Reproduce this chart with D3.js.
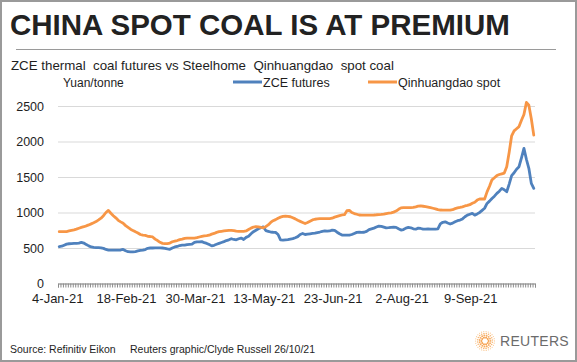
<!DOCTYPE html>
<html>
<head>
<meta charset="utf-8">
<script src="https://cdn.jsdelivr.net/npm/d3@7"></script>
<style>
  body { margin: 0; background: #fff; }
  svg { display: block; }
  text { font-family: "Liberation Sans", Arial, sans-serif; fill: #1e1e1e; }
</style>
</head>
<body>
<div id="graph"></div>
<script>
// china spot coal vs zce futures, daily (chinese trading days 4-Jan-21 .. 25-Oct-21)

var svgWidth = 577, svgHeight = 362;

var seriesNames = ["ZCE futures", "Qinhuangdao spot"];
var seriesColors = ["#4f81bd", "#f79646"];

// every 28th trading day gets a label
var tickIdx = [0, 28, 56, 84, 112, 140, 168];
var tickLabels = ["4-Jan-21", "18-Feb-21", "30-Mar-21", "13-May-21", "23-Jun-21", "2-Aug-21", "9-Sep-21"];
var yTicks = [0, 500, 1000, 1500, 2000, 2500];

// yuan/tonne
var zce = [
  520, 525, 540, 555, 560, 562, 565, 565, 570, 580,
  570, 548, 530, 515, 508, 505, 505, 502, 495, 480,
  470, 470, 470, 470, 470, 472, 480, 462, 448, 446,
  446, 450, 458, 465, 470, 478, 495, 500, 500, 502,
  502, 502, 500, 495, 488, 482, 500, 515, 522, 535,
  540, 540, 548, 552, 555, 580, 587, 585, 590, 575,
  565, 548, 530, 538, 552, 565, 578, 590, 605, 615,
  630, 620, 615, 630, 640, 620, 650, 665, 700, 730,
  750, 770, 785, 798, 745, 735, 725, 722, 720, 690,
  615, 612, 615, 618, 625, 632, 645, 660, 690, 705,
  690, 695, 700, 705, 710, 718, 725, 735, 742, 737,
  740, 752, 748, 722, 700, 682, 680, 681, 682, 690,
  705, 720, 722, 720, 722, 735, 760, 770, 780, 795,
  808, 805, 795, 784, 786, 790, 793, 790, 770, 752,
  760, 780, 790, 785, 770, 765, 780, 775, 765, 765,
  768, 765, 765, 765, 770, 840, 862, 869, 852, 838,
  850, 870, 885, 893, 910, 940, 963, 975, 987, 963,
  980, 1001, 1030, 1060, 1128, 1160, 1198, 1230, 1269, 1300,
  1340, 1320, 1292, 1400, 1520, 1560, 1610, 1645, 1770, 1904,
  1750, 1622, 1410, 1340
];

var spot = [
  730, 730, 730, 732, 740, 748, 755, 765, 778, 790,
  800, 812, 825, 840, 855, 872, 895, 920, 955, 1000,
  1030, 990, 955, 925, 890, 868, 848, 815, 790, 765,
  745, 728, 712, 690, 680, 678, 665, 662, 655, 625,
  605, 580, 565, 562, 562, 570, 588, 598, 605, 618,
  625, 635, 640, 640, 640, 640, 645, 655, 665, 672,
  675, 680, 695, 705, 720, 730, 735, 740, 745, 748,
  748, 745, 738, 735, 735, 735, 740, 760, 780, 795,
  800, 798, 790, 785, 800, 825, 860, 885, 900, 920,
  935, 945, 950, 945, 940, 925, 910, 890, 875, 860,
  845, 860, 878, 895, 905, 910, 915, 915, 915, 915,
  915, 920, 935, 945, 955, 965, 970, 1025, 1030, 1000,
  985, 975, 965, 962, 962, 962, 963, 963, 965, 968,
  970, 973, 978, 985, 990, 995, 1005, 1020, 1045, 1065,
  1068, 1070, 1070, 1070, 1072, 1080, 1090, 1092, 1088, 1082,
  1075, 1068, 1060, 1052, 1040, 1035, 1033, 1033, 1033, 1033,
  1040, 1055, 1065, 1072, 1080, 1092, 1100, 1110, 1130, 1145,
  1175, 1190, 1190, 1190, 1290, 1370, 1460, 1490, 1520, 1535,
  1545, 1555, 1645, 1850, 2080, 2150, 2180, 2210, 2300, 2380,
  2550, 2510, 2320, 2090
];

var plot = {left: 58, right: 535, top: 106, bottom: 283.5};

var svg = d3.select('#graph').append('svg')
  .attr("width", svgWidth)
  .attr("height", svgHeight);

// outer frame
svg.append("rect")
  .attr("x", 1).attr("y", 1)
  .attr("width", svgWidth - 2).attr("height", svgHeight - 2)
  .attr("fill", "#fff")
  .attr("stroke", "#9a9a9a")
  .attr("stroke-width", 2);

// headline block
svg.append("text")
  .attr("x", 10).attr("y", 35)
  .style("font-size", "29.5px")
  .style("font-weight", "bold")
  .style("fill", "#222")
  .text("CHINA SPOT COAL IS AT PREMIUM");

svg.append("line")
  .attr("x1", 16).attr("x2", 556)
  .attr("y1", 49.5).attr("y2", 49.5)
  .attr("stroke", "#9a9a9a");

svg.append("text")
  .attr("x", 11).attr("y", 70)
  .style("font-size", "13.3px")
  .style("white-space", "pre")
  .attr("xml:space", "preserve")
  .text("ZCE thermal  coal futures vs Steelhome  Qinhuangdao  spot coal");

svg.append("text")
  .attr("x", 63).attr("y", 87)
  .style("font-size", "12px")
  .text("Yuan/tonne");

// scales
var n = zce.length;
var x = d3.scaleLinear()
  .domain([0, n])
  .range([plot.left, plot.right]);

var y = d3.scaleLinear()
  .domain([0, 2500])
  .range([plot.bottom, plot.top]);

// gridlines + y labels
var yAxis = svg.append("g")
  .attr("transform", "translate(" + plot.left + ",0)")
  .call(d3.axisLeft(y)
    .tickValues(yTicks)
    .tickFormat(d3.format("d"))
    .tickSize(-(plot.right - plot.left))
    .tickPadding(14));
yAxis.select(".domain").remove();
yAxis.selectAll(".tick line").attr("stroke", "#d9d9d9");
yAxis.selectAll(".tick text")
  .style("font-size", "12.5px")
  .style("font-family", '"Liberation Sans", Arial, sans-serif')
  .attr("fill", "#1e1e1e");

// category axis: one tick per trading day boundary
var xAxis = svg.append("g")
  .attr("transform", "translate(0," + plot.bottom + ")")
  .call(d3.axisBottom(x).tickValues(d3.range(0, n + 1)).tickSize(4).tickFormat(""));
xAxis.select(".domain").attr("stroke", "#8c8c8c");
xAxis.selectAll(".tick line").attr("stroke", "#8c8c8c");

var xLabels = svg.append("g")
  .attr("transform", "translate(0," + plot.bottom + ")")
  .call(d3.axisBottom(x)
    .tickValues(tickIdx.map(function(i) { return i + 0.5; }))
    .tickSize(0).tickPadding(10)
    .tickFormat(function(d, i) { return tickLabels[i]; }));
xLabels.select(".domain").remove();
xLabels.selectAll(".tick text")
  .attr("dx", "-2")
  .style("font-size", "13px")
  .style("font-family", '"Liberation Sans", Arial, sans-serif')
  .attr("fill", "#1e1e1e");

// lines
var line = d3.line()
  .x(function(d, i) { return x(i + 0.5); })
  .y(function(d) { return y(d); });

[zce, spot].forEach(function(s, k) {
  svg.append("path")
    .datum(s)
    .attr("fill", "none")
    .attr("stroke", seriesColors[k])
    .attr("stroke-width", 2.8)
    .attr("stroke-linejoin", "round")
    .attr("stroke-linecap", "round")
    .attr("d", line);
});

// legend
var legendX = [233, 368];
seriesNames.forEach(function(name, k) {
  var g = svg.append("g").attr("transform", "translate(" + legendX[k] + ",82)");
  g.append("line")
    .attr("x1", 0).attr("x2", 29)
    .attr("stroke", seriesColors[k])
    .attr("stroke-width", 3);
  g.append("text")
    .attr("x", 30).attr("y", 4.5)
    .style("font-size", "12.5px")
    .text(name);
});

// footer
svg.append("text")
  .attr("x", 10).attr("y", 353)
  .style("font-size", "10.5px")
  .text("Source: Refinitiv Eikon");
svg.append("text")
  .attr("x", 130).attr("y", 353)
  .style("font-size", "10.5px")
  .text("Reuters graphic/Clyde Russell 26/10/21");

// reuters mark: dotted ring + wordmark
var logo = svg.append("g").attr("transform", "translate(485,341)");
[3.5, 5.5, 7.5, 9.5].forEach(function(r, j) {
  var cnt = Math.round(2 * Math.PI * r / 2.3);
  logo.selectAll(null)
    .data(d3.range(cnt))
    .enter().append("circle")
    .attr("cx", function(d) { return r * Math.cos(d / cnt * 2 * Math.PI + j * 0.4); })
    .attr("cy", function(d) { return r * Math.sin(d / cnt * 2 * Math.PI + j * 0.4); })
    .attr("r", [1.0, 0.95, 0.8, 0.6][j])
    .attr("fill", ["#f6a04d", "#f7ab60", "#f8b877", "#fac893"][j]);
});
svg.append("text")
  .attr("x", 500).attr("y", 346)
  .style("font-size", "14px")
  .style("letter-spacing", "0.3px")
  .style("fill", "#6b6b6b")
  .text("REUTERS");
</script>
</body>
</html>
